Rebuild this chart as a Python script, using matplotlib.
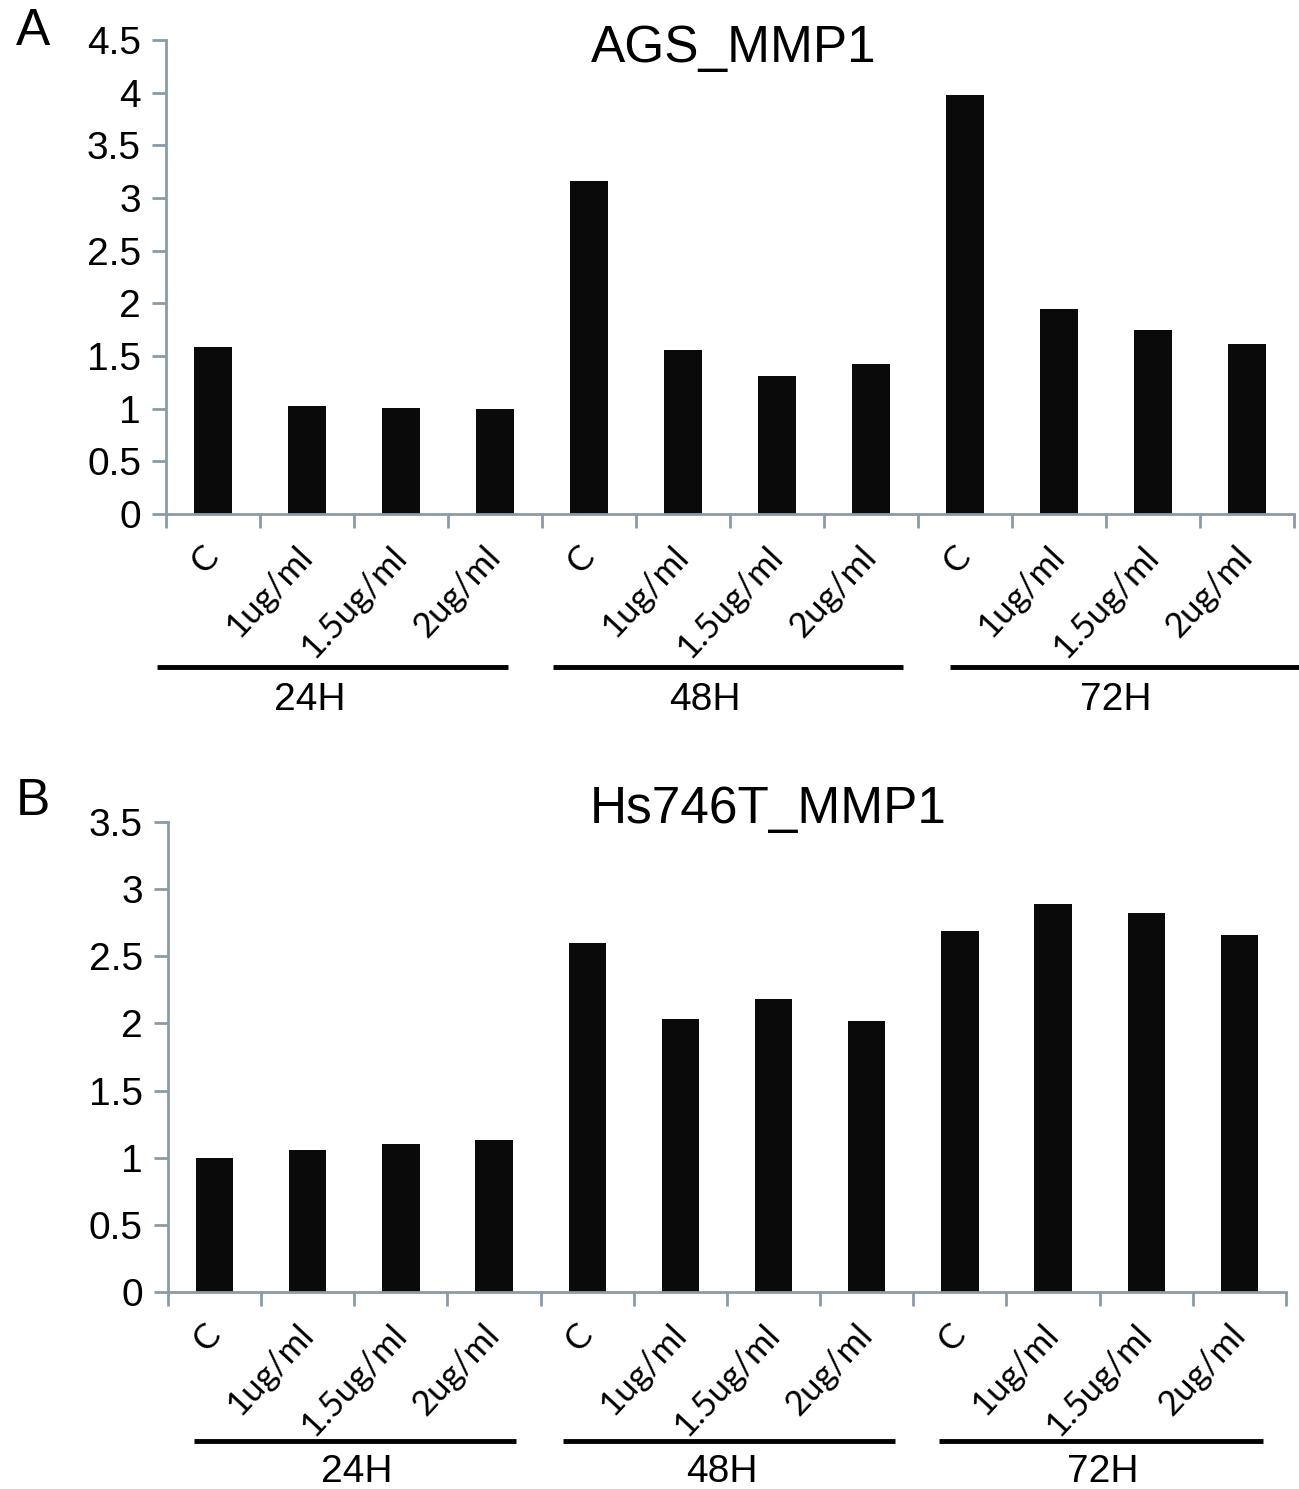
import matplotlib
matplotlib.use('Agg')
import matplotlib.pyplot as plt
import numpy as np

# data
doses = ['C', '1ug/ml', '1.5ug/ml', '2ug/ml']
times = ['24H', '48H', '72H']
ags_mmp1 = [1.59, 1.03, 1.01, 1.00,
            3.16, 1.56, 1.31, 1.42,
            3.98, 1.95, 1.75, 1.61]
hs746t_mmp1 = [1.00, 1.06, 1.10, 1.13,
               2.60, 2.03, 2.18, 2.02,
               2.69, 2.89, 2.82, 2.66]

plt.rcParams['font.family'] = ['Liberation Sans', 'DejaVu Sans']
axis_col = '#8a9ba6'
bar_col = '#0a0a0a'

fig = plt.figure(figsize=(12.99, 14.89), dpi=100)

def draw_panel(rect, values, ymax, title, title_xy, letter, letter_y, lines, labels_x, line_y, label_y):
    ax = fig.add_axes(rect)
    n = len(values)
    x = np.arange(n) + 0.5
    ax.bar(x, values, width=0.4, color=bar_col)
    ax.set_xlim(0, n)
    ax.set_ylim(0, ymax)
    ax.set_yticks(np.arange(0, ymax + 0.01, 0.5))
    ax.set_yticklabels(['%g' % v for v in np.arange(0, ymax + 0.01, 0.5)], fontsize=28)
    ax.set_xticks(np.arange(n + 1))
    ax.set_xticklabels([])
    ax.set_xticks(x, minor=True)
    ax.set_xticklabels(doses * len(times), minor=True, rotation=47, ha='right',
                       va='center', rotation_mode='anchor', fontsize=25, family='Lato')
    ax.tick_params(axis='x', which='major', length=10, width=2, color=axis_col, direction='out')
    ax.tick_params(axis='x', which='minor', length=0, pad=27)
    ax.tick_params(axis='y', length=10, width=2, color=axis_col, pad=8)
    for s in ['top', 'right']:
        ax.spines[s].set_visible(False)
    for s in ['left', 'bottom']:
        ax.spines[s].set_color(axis_col)
        ax.spines[s].set_linewidth(2)
    ax.text(title_xy[0], title_xy[1], title, transform=ax.transAxes,
            ha='center', va='center', fontsize=37)
    fig.text(0.012, letter_y, letter, fontsize=37, va='top')
    trans = ax.get_xaxis_transform()
    for (x0, x1), lx, t in zip(lines, labels_x, times):
        ax.plot([x0, x1], [line_y, line_y], color='black', lw=3.5,
                transform=trans, clip_on=False, solid_capstyle='butt')
        ax.text(lx, label_y, t, transform=trans, ha='center', va='center', fontsize=28)
    return ax

axA = draw_panel([0.1278, 0.6548, 0.8683, 0.3183], ags_mmp1, 4.5, 'AGS_MMP1', (0.503, 0.983),
                 'A', 0.995,
                 [(-0.1, 3.64), (4.12, 7.84), (8.34, 12.05)], [1.53, 5.73, 10.1], -0.323, -0.392)
axB = draw_panel([0.1293, 0.1323, 0.8607, 0.3157], hs746t_mmp1, 3.5, 'Hs746T_MMP1', (0.537, 1.026),
                 'B', 0.478,
                 [(0.28, 3.74), (4.24, 7.8), (8.28, 11.75)], [2.03, 5.95, 10.03], -0.317, -0.383)

fig.savefig('out.png', dpi=100)
